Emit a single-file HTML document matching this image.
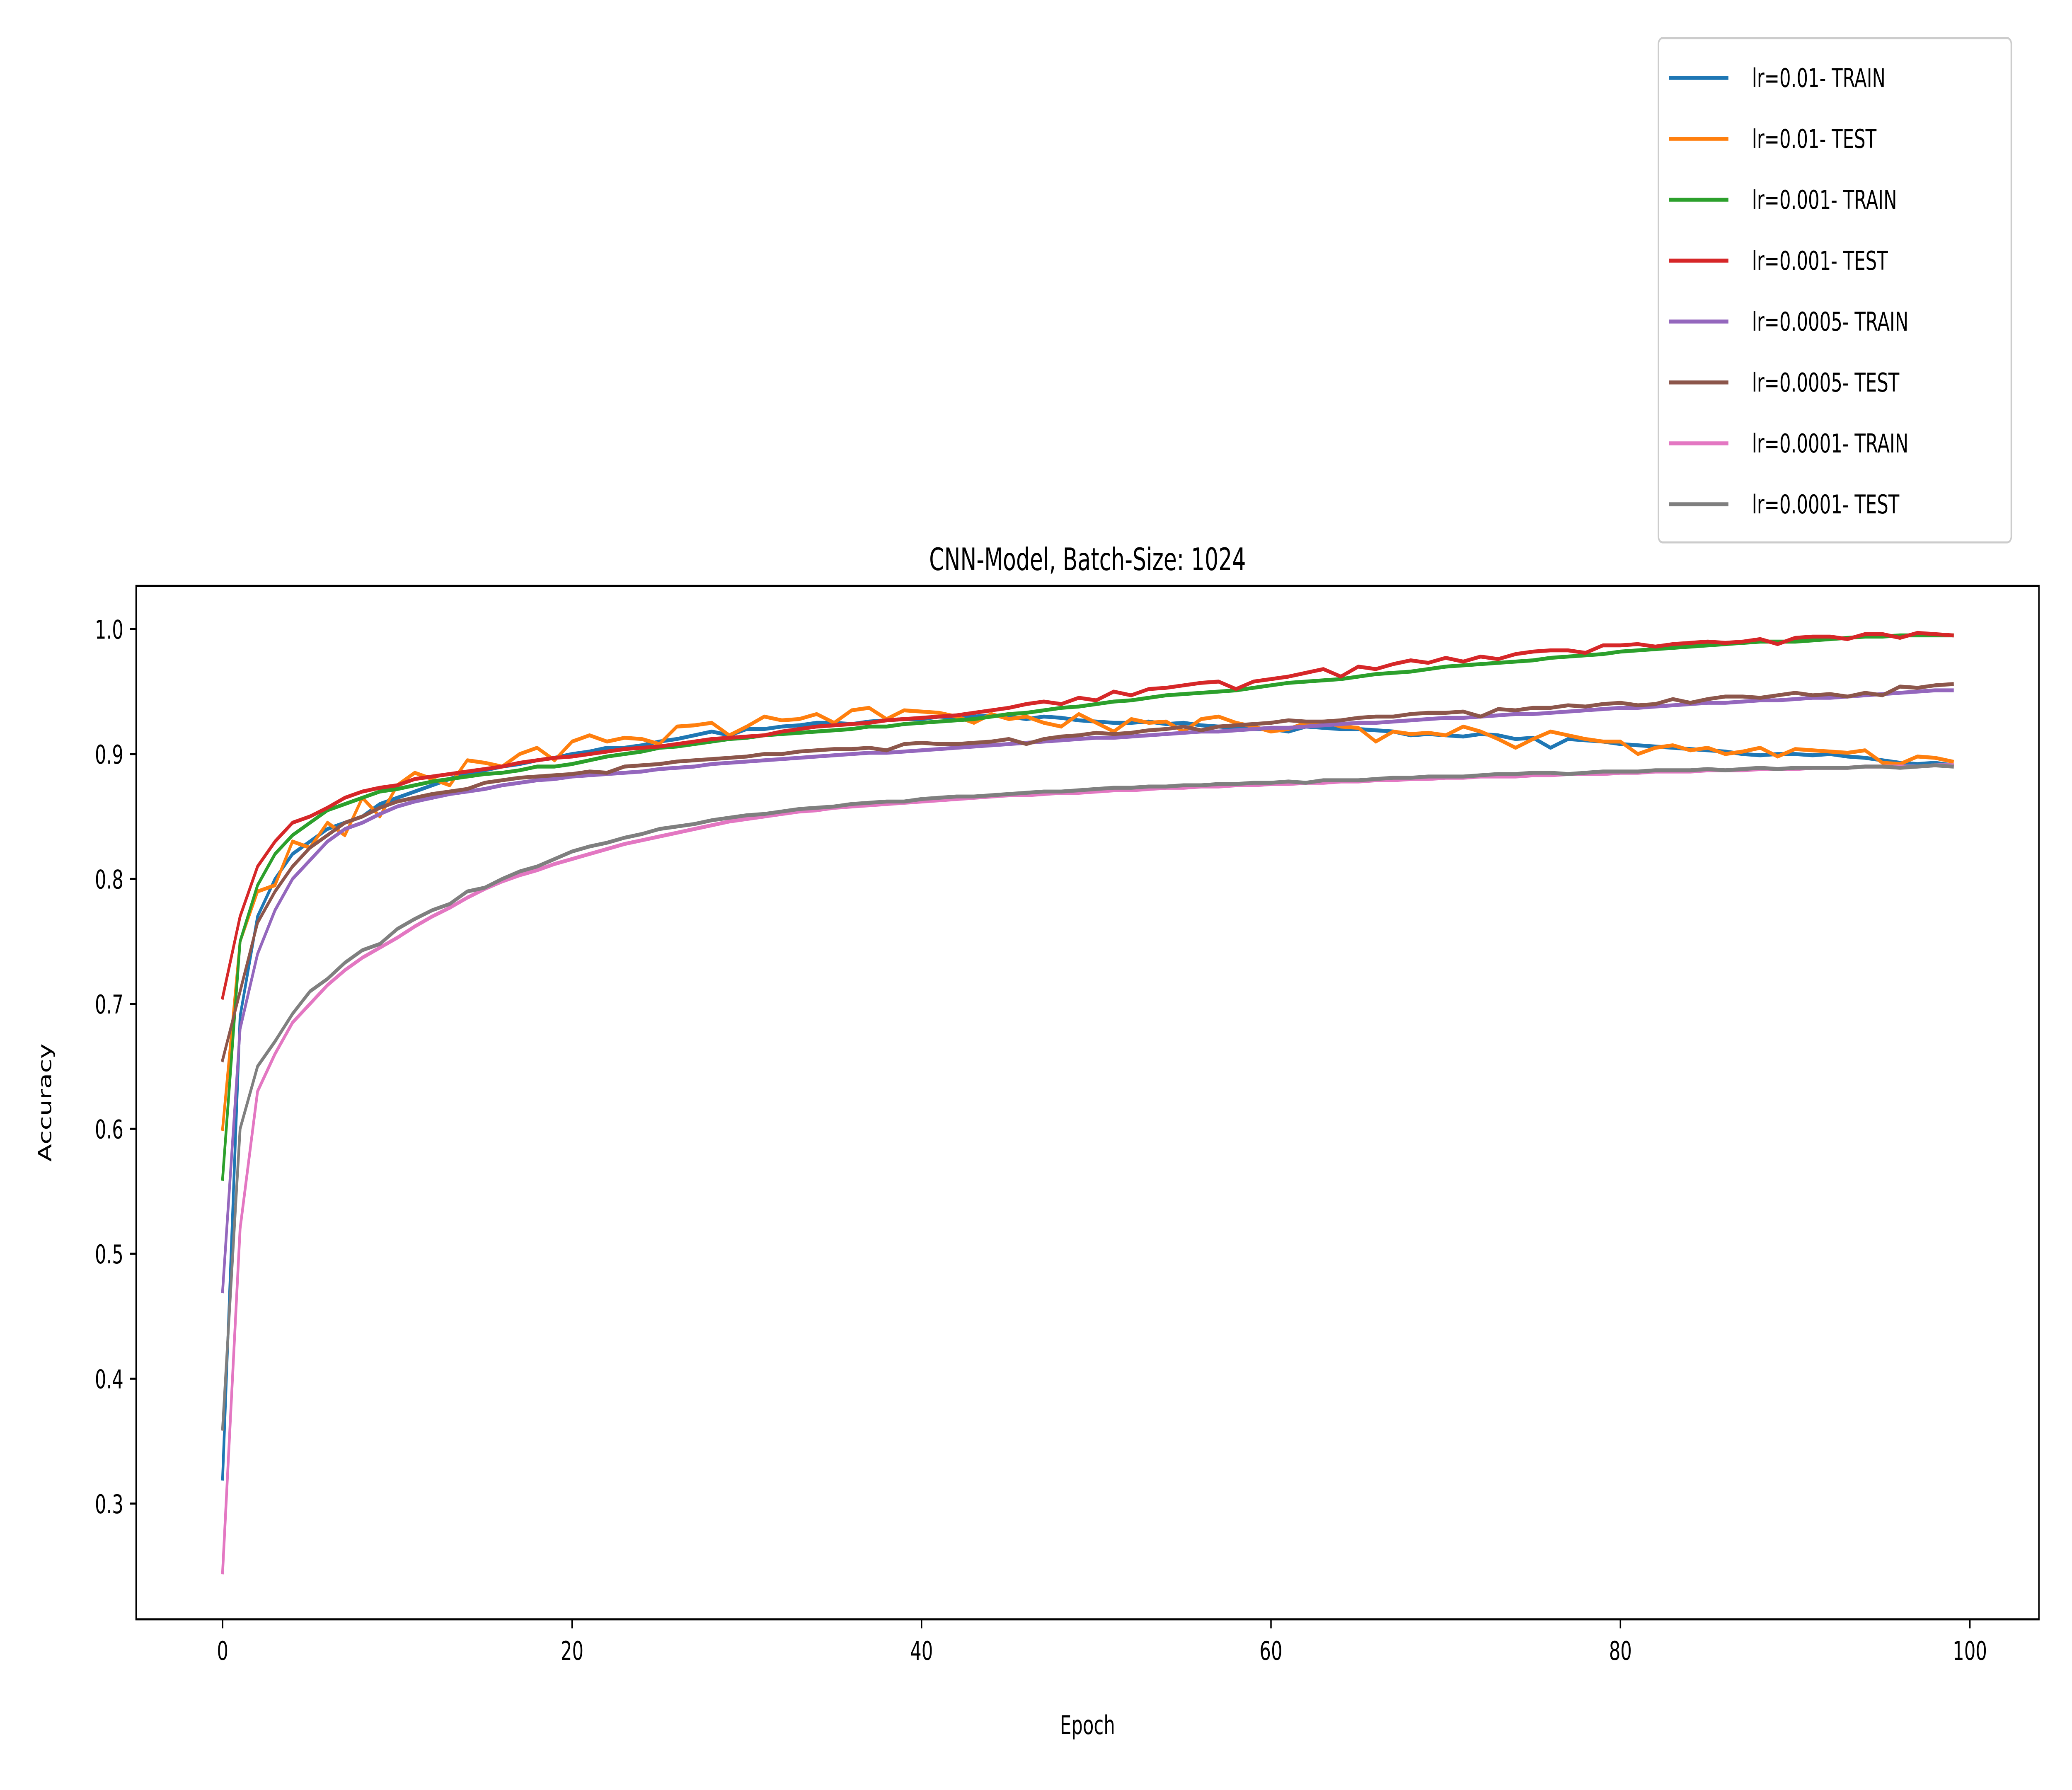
<!DOCTYPE html>
<html>
<head>
<meta charset="utf-8">
<style>
html,body{margin:0;padding:0;background:#fff;width:100%;height:100%;overflow:hidden;}
svg{display:block;width:100vw;height:100vh;font-family:"DejaVu Sans","Liberation Sans",sans-serif;}
</style>
</head>
<body>
<svg id="chart" viewBox="0 0 7200 4320" preserveAspectRatio="none" xmlns="http://www.w3.org/2000/svg">
<rect x="0" y="0" width="7200" height="4320" fill="#fff"/>
<g id="plot"></g>
</svg>
<script>
const xTicks=[0,20,40,60,80,100];
const yTicks=[0.3,0.4,0.5,0.6,0.7,0.8,0.9,1.0];
const seriesNames=["lr=0.01- TRAIN","lr=0.01- TEST","lr=0.001- TRAIN","lr=0.001- TEST","lr=0.0005- TRAIN","lr=0.0005- TEST","lr=0.0001- TRAIN","lr=0.0001- TEST"];
const seriesColors=["#1f77b4","#ff7f0e","#2ca02c","#d62728","#9467bd","#8c564b","#e377c2","#7f7f7f"];
const lr001Train=[0.32,0.69,0.77,0.80,0.82,0.83,0.84,0.845,0.85,0.86,0.865,0.87,0.875,0.88,0.885,0.887,0.89,0.892,0.895,0.897,0.90,0.902,0.905,0.905,0.907,0.91,0.912,0.915,0.918,0.915,0.92,0.92,0.922,0.923,0.925,0.925,0.924,0.926,0.927,0.928,0.928,0.93,0.929,0.93,0.931,0.93,0.928,0.93,0.929,0.927,0.926,0.925,0.925,0.926,0.924,0.925,0.923,0.922,0.921,0.92,0.92,0.918,0.922,0.921,0.92,0.92,0.919,0.918,0.915,0.916,0.915,0.914,0.916,0.915,0.912,0.913,0.905,0.912,0.911,0.91,0.908,0.907,0.906,0.905,0.904,0.903,0.902,0.9,0.899,0.9,0.9,0.899,0.9,0.898,0.897,0.895,0.893,0.892,0.893,0.891];
const lr001Test=[0.60,0.75,0.79,0.795,0.83,0.825,0.845,0.835,0.865,0.85,0.875,0.885,0.88,0.875,0.895,0.893,0.89,0.9,0.905,0.895,0.91,0.915,0.91,0.913,0.912,0.908,0.922,0.923,0.925,0.915,0.922,0.93,0.927,0.928,0.932,0.925,0.935,0.937,0.928,0.935,0.934,0.933,0.93,0.925,0.932,0.928,0.93,0.925,0.922,0.932,0.925,0.918,0.928,0.925,0.926,0.918,0.928,0.93,0.925,0.922,0.918,0.92,0.925,0.926,0.922,0.921,0.91,0.918,0.916,0.917,0.915,0.922,0.918,0.912,0.905,0.912,0.918,0.915,0.912,0.91,0.91,0.9,0.905,0.907,0.903,0.905,0.9,0.902,0.905,0.898,0.904,0.903,0.902,0.901,0.903,0.893,0.892,0.898,0.897,0.894];
const lr0001Train=[0.56,0.75,0.795,0.82,0.835,0.845,0.855,0.86,0.865,0.87,0.872,0.875,0.878,0.88,0.882,0.884,0.885,0.887,0.89,0.89,0.892,0.895,0.898,0.9,0.902,0.905,0.906,0.908,0.91,0.912,0.913,0.915,0.916,0.917,0.918,0.919,0.92,0.922,0.922,0.924,0.925,0.926,0.927,0.928,0.93,0.932,0.933,0.935,0.937,0.938,0.94,0.942,0.943,0.945,0.947,0.948,0.949,0.95,0.951,0.953,0.955,0.957,0.958,0.959,0.96,0.962,0.964,0.965,0.966,0.968,0.97,0.971,0.972,0.973,0.974,0.975,0.977,0.978,0.979,0.98,0.982,0.983,0.984,0.985,0.986,0.987,0.988,0.989,0.99,0.99,0.99,0.991,0.992,0.993,0.994,0.994,0.995,0.995,0.995,0.995];
const lr0001Test=[0.705,0.77,0.81,0.83,0.845,0.85,0.857,0.865,0.87,0.873,0.875,0.88,0.882,0.884,0.886,0.888,0.89,0.893,0.895,0.897,0.898,0.9,0.902,0.904,0.905,0.906,0.908,0.91,0.912,0.913,0.914,0.915,0.918,0.92,0.922,0.923,0.924,0.925,0.927,0.928,0.929,0.93,0.931,0.933,0.935,0.937,0.94,0.942,0.94,0.945,0.943,0.95,0.947,0.952,0.953,0.955,0.957,0.958,0.952,0.958,0.96,0.962,0.965,0.968,0.962,0.97,0.968,0.972,0.975,0.973,0.977,0.974,0.978,0.976,0.98,0.982,0.983,0.983,0.981,0.987,0.987,0.988,0.986,0.988,0.989,0.99,0.989,0.99,0.992,0.988,0.993,0.994,0.994,0.992,0.996,0.996,0.993,0.997,0.996,0.995];
const lr00005Train=[0.47,0.68,0.74,0.775,0.8,0.815,0.83,0.84,0.845,0.852,0.858,0.862,0.865,0.868,0.87,0.872,0.875,0.877,0.879,0.88,0.882,0.883,0.884,0.885,0.886,0.888,0.889,0.89,0.892,0.893,0.894,0.895,0.896,0.897,0.898,0.899,0.9,0.901,0.901,0.902,0.903,0.904,0.905,0.906,0.907,0.908,0.909,0.91,0.911,0.912,0.913,0.913,0.914,0.915,0.916,0.917,0.918,0.918,0.919,0.92,0.921,0.921,0.922,0.923,0.924,0.925,0.925,0.926,0.927,0.928,0.929,0.929,0.93,0.931,0.932,0.932,0.933,0.934,0.935,0.936,0.937,0.937,0.938,0.939,0.94,0.941,0.941,0.942,0.943,0.943,0.944,0.945,0.945,0.946,0.947,0.948,0.949,0.95,0.951,0.951];
const lr00005Test=[0.655,0.71,0.765,0.79,0.81,0.825,0.835,0.845,0.85,0.857,0.862,0.865,0.868,0.87,0.872,0.877,0.879,0.881,0.882,0.883,0.884,0.886,0.885,0.89,0.891,0.892,0.894,0.895,0.896,0.897,0.898,0.9,0.9,0.902,0.903,0.904,0.904,0.905,0.903,0.908,0.909,0.908,0.908,0.909,0.91,0.912,0.908,0.912,0.914,0.915,0.917,0.916,0.917,0.919,0.92,0.922,0.919,0.922,0.923,0.924,0.925,0.927,0.926,0.926,0.927,0.929,0.93,0.93,0.932,0.933,0.933,0.934,0.93,0.936,0.935,0.937,0.937,0.939,0.938,0.94,0.941,0.939,0.94,0.944,0.941,0.944,0.946,0.946,0.945,0.947,0.949,0.947,0.948,0.946,0.949,0.947,0.954,0.953,0.955,0.956];
const lr00001Train=[0.245,0.52,0.63,0.66,0.685,0.70,0.715,0.727,0.737,0.745,0.753,0.762,0.77,0.777,0.785,0.792,0.798,0.803,0.807,0.812,0.816,0.82,0.824,0.828,0.831,0.834,0.837,0.84,0.843,0.846,0.848,0.85,0.852,0.854,0.855,0.857,0.858,0.859,0.86,0.861,0.862,0.863,0.864,0.865,0.866,0.867,0.867,0.868,0.869,0.869,0.87,0.871,0.871,0.872,0.873,0.873,0.874,0.874,0.875,0.875,0.876,0.876,0.877,0.877,0.878,0.878,0.879,0.879,0.88,0.88,0.881,0.881,0.882,0.882,0.882,0.883,0.883,0.884,0.884,0.884,0.885,0.885,0.886,0.886,0.886,0.887,0.887,0.887,0.888,0.888,0.888,0.889,0.889,0.889,0.89,0.89,0.89,0.89,0.891,0.891];
const lr00001Test=[0.36,0.60,0.65,0.67,0.692,0.71,0.72,0.733,0.743,0.748,0.76,0.768,0.775,0.78,0.79,0.793,0.8,0.806,0.81,0.816,0.822,0.826,0.829,0.833,0.836,0.84,0.842,0.844,0.847,0.849,0.851,0.852,0.854,0.856,0.857,0.858,0.86,0.861,0.862,0.862,0.864,0.865,0.866,0.866,0.867,0.868,0.869,0.87,0.87,0.871,0.872,0.873,0.873,0.874,0.874,0.875,0.875,0.876,0.876,0.877,0.877,0.878,0.877,0.879,0.879,0.879,0.88,0.881,0.881,0.882,0.882,0.882,0.883,0.884,0.884,0.885,0.885,0.884,0.885,0.886,0.886,0.886,0.887,0.887,0.887,0.888,0.887,0.888,0.889,0.888,0.889,0.889,0.889,0.889,0.89,0.89,0.889,0.89,0.891,0.89];
const allSeries=[lr001Train,lr001Test,lr0001Train,lr0001Test,lr00005Train,lr00005Test,lr00001Train,lr00001Test];

const NS="http://www.w3.org/2000/svg";
const P={l:473,r:7085,t:1414,b:3908};
const xMin=-4.95,xMax=103.95;
let yLo=Infinity,yHi=-Infinity;
allSeries.forEach(s=>s.forEach(v=>{yLo=Math.min(yLo,v);yHi=Math.max(yHi,v);}));
const yPad=(yHi-yLo)*0.05;const yMin=yLo-yPad,yMax=yHi+yPad;
const xs=v=>P.l+(v-xMin)/(xMax-xMin)*(P.r-P.l);
const ys=v=>P.b-(v-yMin)/(yMax-yMin)*(P.b-P.t);
const g=document.getElementById('plot');
function mk(tag,attrs,parent){const e=document.createElementNS(NS,tag);for(const k in attrs)e.setAttribute(k,attrs[k]);(parent||g).appendChild(e);return e;}

allSeries.forEach((s,i)=>{
  const d=s.map((v,j)=>(j?'L':'M')+xs(j).toFixed(1)+' '+ys(v).toFixed(1)).join(' ');
  const p=mk('path',{d:d,fill:'none',stroke:seriesColors[i],'stroke-width':9.4,'stroke-linejoin':'round','stroke-linecap':'square'});
  
  
});
const fr=mk('rect',{x:P.l,y:P.t,width:P.r-P.l,height:P.b-P.t,fill:'none',stroke:'#000','stroke-width':5});


xTicks.forEach(t=>{
  const x=xs(t);
  const tk=mk('line',{x1:x,x2:x,y1:P.b,y2:P.b+22,stroke:'#000','stroke-width':5});
  
  
  const tx=mk('text',{x:x,y:P.b+98,'font-size':62.5,'text-anchor':'middle',fill:'#000'});
  tx.textContent=String(t);
  
  
});
yTicks.forEach(t=>{
  const y=ys(t);
  const tk=mk('line',{x1:P.l-22,x2:P.l,y1:y,y2:y,stroke:'#000','stroke-width':5});
  
  
  const tx=mk('text',{x:P.l-44,y:y+23,'font-size':62.5,'text-anchor':'end',fill:'#000'});
  tx.textContent=t.toFixed(1);
  
  
});
const ti=mk('text',{x:(P.l+P.r)/2,y:P.t-38,'font-size':75,'text-anchor':'middle',fill:'#000'});
ti.textContent='CNN-Model, Batch-Size: 1024';


const xl=mk('text',{x:(P.l+P.r)/2,y:4185,'font-size':62.5,'text-anchor':'middle',fill:'#000'});
xl.textContent='Epoch';


const yl=mk('text',{x:0,y:0,'font-size':62.5,'text-anchor':'middle',fill:'#000',transform:'translate(178,'+((P.t+P.b)/2)+') rotate(-90)'});
yl.textContent='Accuracy';


const lg=mk('g',{});


const lb=mk('rect',{x:5763,y:92,width:1226,height:1217,rx:14,fill:'#fff','fill-opacity':0.8,stroke:'#cccccc','stroke-width':5},lg);


seriesNames.forEach((n,i)=>{
  const y=188+i*147;
  const ln=mk('line',{x1:5800,x2:6006,y1:y,y2:y,stroke:seriesColors[i],'stroke-width':9.4},lg);
  
  
  const tx=mk('text',{x:6088,y:y+22,'font-size':62.5,fill:'#000'},lg);
  tx.textContent=n;
  
  
});
</script>
</body>
</html>
